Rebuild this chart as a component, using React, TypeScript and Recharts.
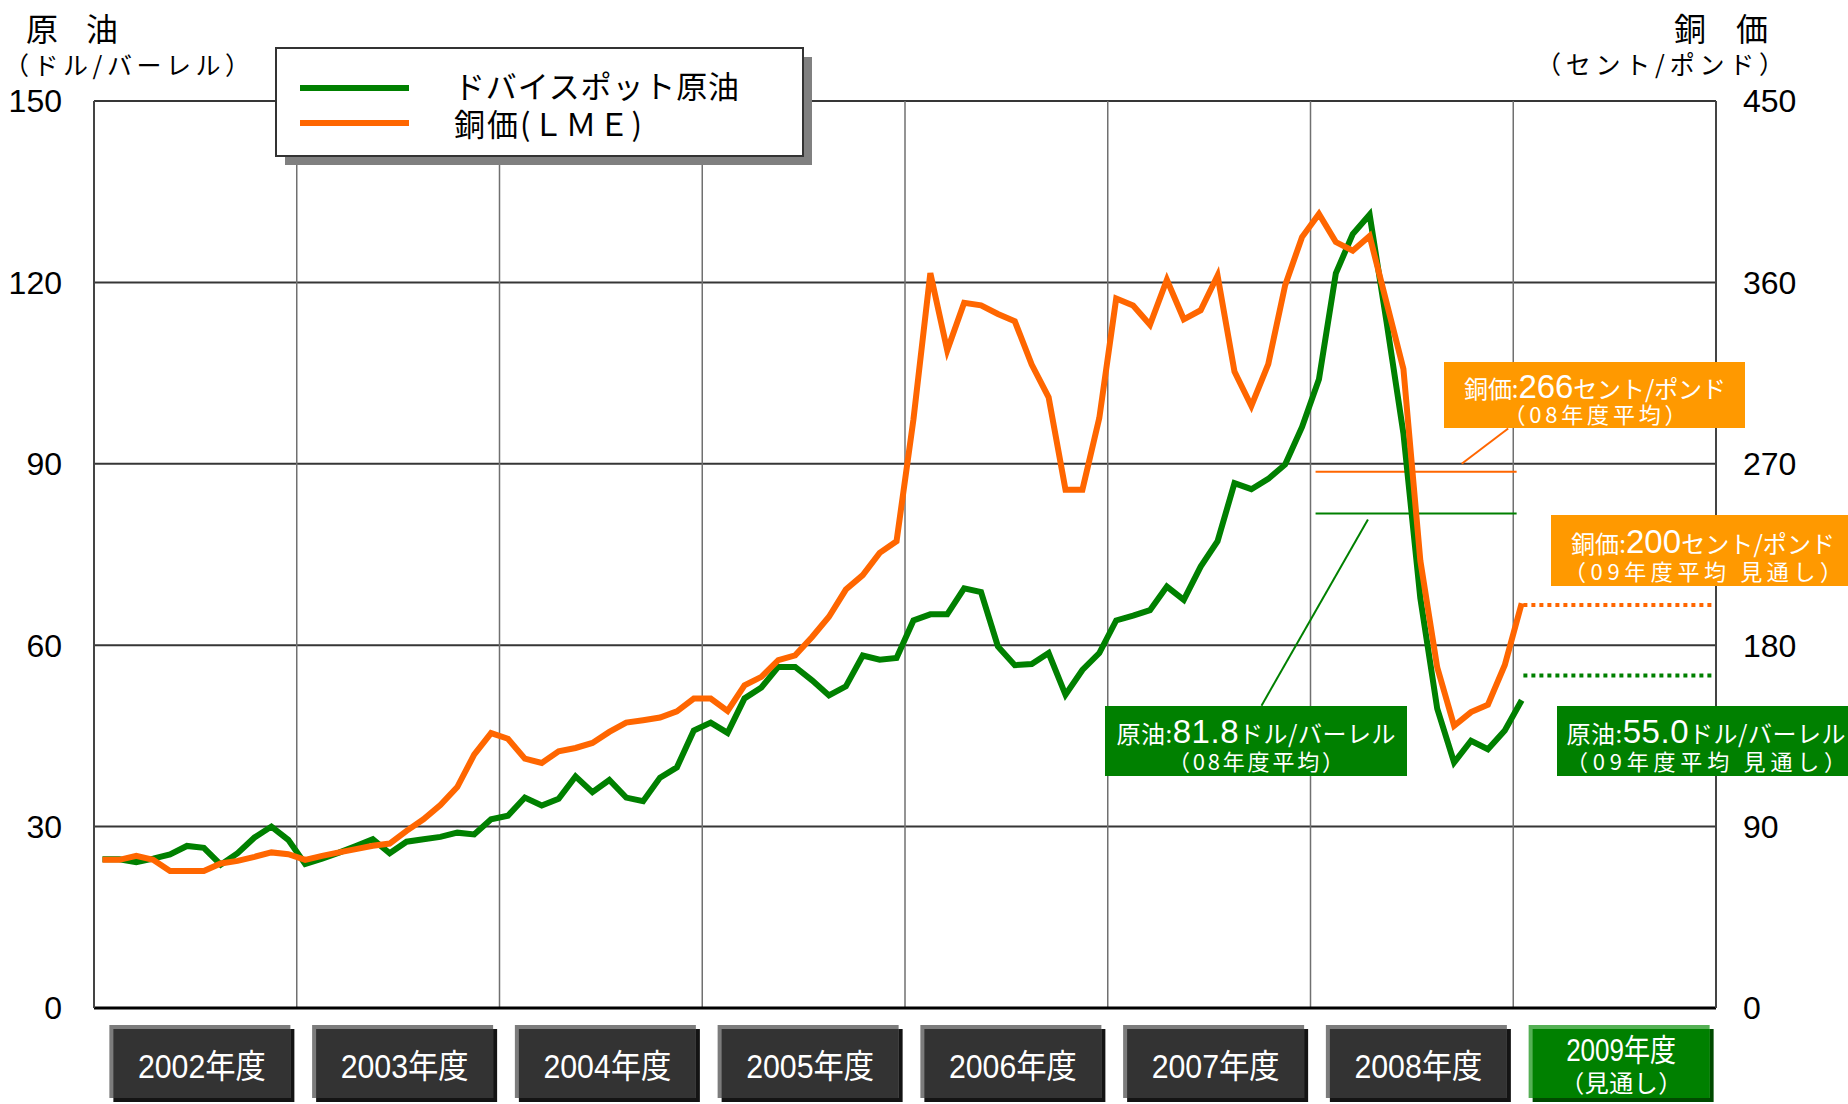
import React from 'react';
import { ComposedChart, Line, XAxis, YAxis, CartesianGrid, ReferenceLine } from 'recharts';

// fiscal years (April - March), one point per month, Apr 2002 .. Apr 2009
const yearLabels = ['2002年度', '2003年度', '2004年度', '2005年度', '2006年度', '2007年度', '2008年度', '2009年度'];
const yearTicks = [6, 18, 30, 42, 54, 66, 78, 90];
const yearBounds = [12, 24, 36, 48, 60, 72, 84];
const oilTicks = [0, 30, 60, 90, 120, 150];
const copperTicks = [0, 90, 180, 270, 360, 450];

// Dubai spot crude, $/bbl
const dubaiOil = [
  24.6, 24.6, 24.1, 24.7, 25.4, 26.8, 26.5, 23.7, 25.6, 28.2, 30.0, 27.8,
  23.8, 24.7, 25.7, 26.8, 27.9, 25.6, 27.5, 27.9, 28.3, 29.0, 28.7, 31.2,
  31.8, 34.8, 33.5, 34.6, 38.3, 35.7, 37.7, 34.8, 34.2, 38.1, 39.8, 45.9,
  47.2, 45.5, 51.2, 53.0, 56.4, 56.4, 54.2, 51.7, 53.2, 58.3, 57.6, 57.9,
  64.1, 65.1, 65.1, 69.4, 68.8, 59.8, 56.7, 56.9, 58.7, 51.8, 55.9, 58.7,
  64.1, 64.9, 65.8, 69.7, 67.5, 73.0, 77.2, 86.8, 85.8, 87.5, 89.9, 96.1,
  104.0, 121.5, 128.0, 131.2, 113.5, 95.0, 67.8, 49.5, 40.6, 44.2, 42.8, 45.9,
  50.9,
];

// LME copper, cents/lb
const copperLme = [
  73.5, 73.5, 75.5, 73.5, 68, 68, 68, 71.7, 73, 75, 77.2, 76.3,
  73.5, 75.5, 77.2, 78.8, 80.5, 81.6, 87.9, 93.6, 100.7, 109.6, 125.7, 136.4,
  133.6, 123.7, 121.6, 127.4, 129.0, 131.5, 137.0, 141.6, 142.8, 144.1, 147.2, 153.5,
  153.5, 147.4, 160.1, 164.3, 172.6, 175.0, 184.1, 194.1, 207.6, 214.8, 225.8, 231.6,
  292, 364.6, 326.3, 349.9, 348.6, 344.3, 340.7, 319.2, 303, 257.1, 257.1, 292.7,
  352, 348.5, 339, 361.3, 341.7, 346.2, 363.4, 315.8, 298.7, 319.5, 358.6, 382.5,
  394, 380, 375.7, 383, 350, 317, 222, 169, 140, 146.8, 150.5, 170.2,
  200.8,
];

const oilAvg08 = 81.8;
const copperAvg08 = 266;
const oilOutlook09 = 55.0;
const copperOutlook09 = 200;

const GREEN = '#008000';
const ORANGE = '#FF6600';
const AMBER = '#FF9900';
const JP = '"Noto Sans CJK JP", sans-serif';
const NUM = '"Liberation Sans", "Noto Sans CJK JP", sans-serif';

const data = dubaiOil.map((v, i) => ({ m: i + 0.5, oil: v, copper: copperLme[i] }));

function YearTick(props: any) {
  const { x, y, payload } = props;
  const i = yearTicks.indexOf(payload.value);
  const outlook = i === yearLabels.length - 1;
  const L = x - 86;
  const T = y + 17;
  const W = 181;
  const H = 73;
  const face = outlook ? GREEN : '#333333';
  const light = outlook ? '#55b055' : '#7c7c7c';
  const dark = outlook ? '#004a00' : '#141414';
  const cx = L + W / 2 + 2;
  return (
    <g>
      <rect x={L + 4} y={T + 4} width={W} height={H} fill={dark} />
      <rect x={L} y={T} width={W} height={H} fill={light} />
      <rect x={L + 4} y={T + 4} width={W - 4} height={H - 4} fill={face} />
      {outlook ? (
        <>
          <text x={cx} y={T + 36} textAnchor="middle" fill="#fff" fontSize={31} fontFamily={NUM}
            textLength={110} lengthAdjust="spacingAndGlyphs">{yearLabels[i]}</text>
          <text x={cx} y={T + 67} textAnchor="middle" fill="#fff" fontSize={24} fontFamily={JP}
            textLength={122} lengthAdjust="spacing">（見通し）</text>
        </>
      ) : (
        <text x={cx} y={T + 53} textAnchor="middle" fill="#fff" fontSize={33} fontFamily={NUM}
          textLength={128} lengthAdjust="spacingAndGlyphs">{yearLabels[i]}</text>
      )}
    </g>
  );
}

interface CalloutProps {
  x: number; y: number; w: number; h: number; fill: string;
  prefix: string; value: string; suffix: string; sub: string;
  cx: number; w1: number; w2: number;
}

function Callout({ x, y, w, h, fill, prefix, value, suffix, sub, cx, w1, w2 }: CalloutProps) {
  return (
    <g>
      <rect x={x} y={y} width={w} height={h} fill={fill} />
      <text x={cx} y={y + h * 0.36 + 12} textAnchor="middle" fill="#fff" fontFamily={JP}
        textLength={w1} lengthAdjust="spacing">
        <tspan fontSize={24}>{prefix}</tspan>
        <tspan fontSize={33} fontFamily={NUM}>{value}</tspan>
        <tspan fontSize={24}>{suffix}</tspan>
      </text>
      <text x={cx} y={y + h * 0.8 + 8} textAnchor="middle" fill="#fff" fontSize={22} fontFamily={JP}
        textLength={w2 + 22} lengthAdjust="spacing">{sub}</text>
    </g>
  );
}

export default function App() {
  return (
    <div style={{ position: 'absolute', left: 0, top: 0, width: 1848, height: 1104, background: '#fff' }}>
      <ComposedChart width={1848} height={1104} data={data} margin={{ top: 101, right: 0, bottom: 0, left: 0 }}>
        <CartesianGrid vertical={false} stroke="#363636" strokeWidth={2} />
        <XAxis
          type="number"
          dataKey="m"
          domain={[0, 96]}
          ticks={yearTicks}
          interval={0}
          height={96}
          tickSize={0}
          tickMargin={0}
          tickLine={false}
          axisLine={{ stroke: '#000', strokeWidth: 3 }}
          tick={<YearTick />}
        />
        <YAxis
          domain={[0, 150]}
          ticks={oilTicks}
          width={94}
          tickSize={0}
          tickMargin={32}
          tickLine={false}
          axisLine={{ stroke: '#444', strokeWidth: 2 }}
          tick={{ fontSize: 32, fill: '#000', fontFamily: NUM }}
        />
        <YAxis
          yAxisId="cu"
          orientation="right"
          domain={[0, 450]}
          ticks={copperTicks}
          width={132}
          tickSize={0}
          tickMargin={27}
          tickLine={false}
          axisLine={{ stroke: '#444', strokeWidth: 2 }}
          tick={{ fontSize: 32, fill: '#000', fontFamily: NUM, textAnchor: 'start' }}
        />
        {yearBounds.map((b) => (
          <ReferenceLine key={b} x={b} stroke="#707070" strokeWidth={1.5} />
        ))}
        <ReferenceLine segment={[{ x: 72.3, y: copperAvg08 }, { x: 84.2, y: copperAvg08 }]} yAxisId="cu" stroke={ORANGE} strokeWidth={2} />
        <ReferenceLine segment={[{ x: 72.3, y: oilAvg08 }, { x: 84.2, y: oilAvg08 }]} stroke={GREEN} strokeWidth={2} />
        <ReferenceLine segment={[{ x: 80.95, y: 270 }, { x: 83.7, y: 287.5 }]} yAxisId="cu" stroke={ORANGE} strokeWidth={2} />
        <ReferenceLine segment={[{ x: 75.4, y: 80.8 }, { x: 69.1, y: 50 }]} stroke={GREEN} strokeWidth={2} />
        <ReferenceLine segment={[{ x: 84.6, y: copperOutlook09 }, { x: 96, y: copperOutlook09 }]} yAxisId="cu" stroke={ORANGE} strokeWidth={4} strokeDasharray="4 4" />
        <ReferenceLine segment={[{ x: 84.6, y: oilOutlook09 }, { x: 96, y: oilOutlook09 }]} stroke={GREEN} strokeWidth={4} strokeDasharray="4 4" />
        <Line type="linear" dataKey="oil" stroke={GREEN} strokeWidth={6} dot={false} isAnimationActive={false} />
        <Line type="linear" dataKey="copper" yAxisId="cu" stroke={ORANGE} strokeWidth={6} dot={false} isAnimationActive={false} />
      </ComposedChart>

      <svg width={1848} height={1104} style={{ position: 'absolute', left: 0, top: 0, pointerEvents: 'none' }}>
        {/* axis titles */}
        <text x={26} y={41} fontSize={32} fontFamily={JP} fill="#000" textLength={92} lengthAdjust="spacing">原 油</text>
        <text x={4} y={75} fontSize={25} fontFamily={JP} fill="#000" textLength={246} lengthAdjust="spacing">（ドル/バーレル）</text>
        <text x={1674} y={41} fontSize={32} fontFamily={JP} fill="#000" textLength={94} lengthAdjust="spacing">銅 価</text>
        <text x={1536} y={74} fontSize={25} fontFamily={JP} fill="#000" textLength={248} lengthAdjust="spacing">（セント/ポンド）</text>

        {/* legend */}
        <rect x={285} y={57} width={527} height={108} fill="#808080" />
        <rect x={276} y={48} width={527} height={108} fill="#fff" stroke="#333" strokeWidth={2} />
        <line x1={300} x2={409} y1={88} y2={88} stroke={GREEN} strokeWidth={6} />
        <line x1={300} x2={409} y1={123} y2={123} stroke={ORANGE} strokeWidth={6} />
        <text x={454} y={98} fontSize={31} fontFamily={JP} fill="#000" textLength={285} lengthAdjust="spacing">ドバイスポット原油</text>
        <text x={454} y={136} fontSize={31} fontFamily={JP} fill="#000" textLength={188} lengthAdjust="spacing">銅価(ＬＭＥ)</text>

        {/* annotations */}
        <Callout x={1444} y={362} w={301} h={66} fill={AMBER} prefix="銅価:" value={String(copperAvg08)} suffix="セント/ポンド"
          sub="（08年度平均）" cx={1595} w1={262} w2={161} />
        <Callout x={1105} y={706} w={302} h={70} fill={GREEN} prefix="原油:" value={oilAvg08.toFixed(1)} suffix="ドル/バーレル"
          sub="（08年度平均）" cx={1256} w1={279} w2={154} />
        <Callout x={1551} y={515} w={305} h={71} fill={AMBER} prefix="銅価:" value={String(copperOutlook09)} suffix="セント/ポンド"
          sub="（09年度平均 見通し）" cx={1703} w1={264} w2={256} />
        <Callout x={1557} y={706} w={300} h={70} fill={GREEN} prefix="原油:" value={oilOutlook09.toFixed(1)} suffix="ドル/バーレル"
          sub="（09年度平均 見通し）" cx={1706} w1={279} w2={258} />
      </svg>
    </div>
  );
}
